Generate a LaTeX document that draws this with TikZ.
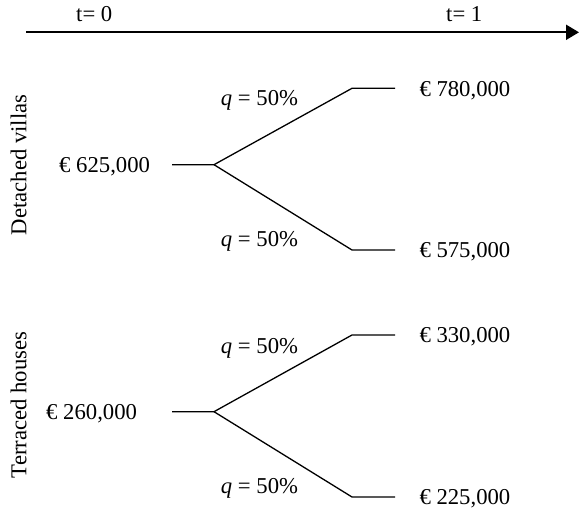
\documentclass[tikz,border=0pt]{standalone}
\usepackage{fontspec}
\setmainfont{Liberation Serif}
\usetikzlibrary{arrows.meta}
\begin{document}
\begin{tikzpicture}[x=1pt,y=-1pt,
  lbl/.style={inner sep=0pt,font=\fontsize{22.7}{27}\selectfont,anchor=base west},
  branch/.style={line width=1.3pt,line join=miter},
  axis/.style={line width=2pt,-{Triangle[length=13pt,width=15pt]}}]
\useasboundingbox (0,0) rectangle (579,511);
% time axis
\coordinate (a0) at (26,32.3);
\coordinate (a1) at (579,32.3);
\draw[axis] (a0) -- (a1);
\node[lbl] (t0) at (76,21.7) {t= 0};
\node[lbl] (t1) at (446,21.7) {t= 1};
% detached villas
\node[lbl,rotate=90,anchor=base] (dv) at (26.5,165) {Detached villas};
\coordinate (d0) at (172,164.7);
\coordinate (db) at (214,164.7);
\coordinate (du) at (352,88.3);
\coordinate (due) at (395,88.3);
\coordinate (dd) at (352,250);
\coordinate (dde) at (395,250);
\draw[branch] (d0) -- (db) -- (du) -- (due);
\draw[branch] (db) -- (dd) -- (dde);
\node[lbl] (dstart) at (59,172.3) {€ 625,000};
\node[lbl] (dup) at (419.3,96.5) {€ 780,000};
\node[lbl] (ddn) at (419.3,257.8) {€ 575,000};
\node[lbl] (dqu) at (220.7,106) {\textit{q} = 50\%};
\node[lbl] (dqd) at (220.7,246.7) {\textit{q} = 50\%};
% terraced houses
\node[lbl,rotate=90,anchor=base] (th) at (26.5,405) {Terraced houses};
\coordinate (h0) at (172,411.7);
\coordinate (hb) at (214,411.7);
\coordinate (hu) at (352,335);
\coordinate (hue) at (395,335);
\coordinate (hd) at (352,497);
\coordinate (hde) at (395,497);
\draw[branch] (h0) -- (hb) -- (hu) -- (hue);
\draw[branch] (hb) -- (hd) -- (hde);
\node[lbl] (hstart) at (46,419.3) {€ 260,000};
\node[lbl] (hup) at (419.3,342.8) {€ 330,000};
\node[lbl] (hdn) at (419.3,504.5) {€ 225,000};
\node[lbl] (hqu) at (220.7,353.3) {\textit{q} = 50\%};
\node[lbl] (hqd) at (220.7,493.7) {\textit{q} = 50\%};
\end{tikzpicture}
\end{document}
